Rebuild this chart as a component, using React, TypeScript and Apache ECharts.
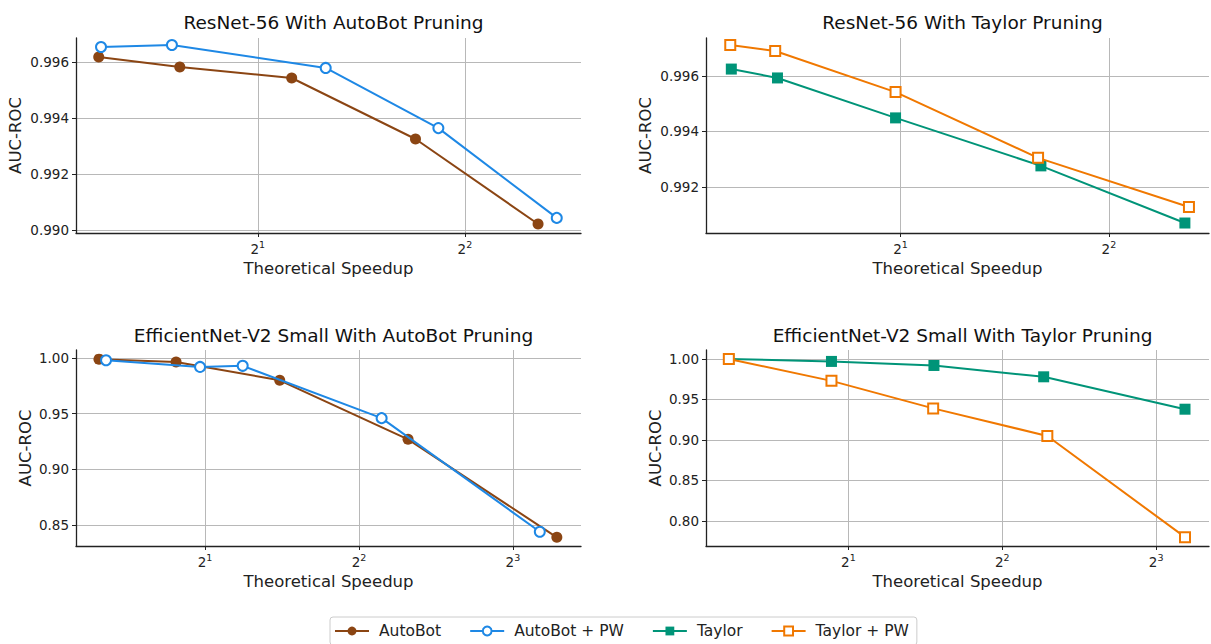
import React, { useEffect, useRef } from "react";
import * as echarts from "echarts";

const FONT = "DejaVu Sans";

const titles = [
  "ResNet-56 With AutoBot Pruning",
  "ResNet-56 With Taylor Pruning",
  "EfficientNet-V2 Small With AutoBot Pruning",
  "EfficientNet-V2 Small With Taylor Pruning",
];

// Top-left: ResNet-56, AutoBot
const r56AutoBotX = [1.174, 1.54, 2.24, 3.39, 5.11];
const r56AutoBotY = [0.99618, 0.99582, 0.99543, 0.99325, 0.99021];
const r56AutoBotPWX = [1.183, 1.5, 2.51, 3.66, 5.44];
const r56AutoBotPWY = [0.99654, 0.99661, 0.99579, 0.99364, 0.99043];

// Top-right: ResNet-56, Taylor
const r56TaylorX = [1.139, 1.328, 1.967, 3.19, 5.15];
const r56TaylorY = [0.99625, 0.99593, 0.99449, 0.99276, 0.9907];
const r56TaylorPWX = [1.135, 1.318, 1.967, 3.16, 5.22];
const r56TaylorPWY = [0.99712, 0.9969, 0.99542, 0.99305, 0.99128];

// Bottom-left: EfficientNet-V2 Small, AutoBot
const effAutoBotX = [1.241, 1.756, 2.8, 4.99, 9.75];
const effAutoBotY = [0.999, 0.9965, 0.98, 0.927, 0.839];
const effAutoBotPWX = [1.281, 1.956, 2.37, 4.43, 9.03];
const effAutoBotPWY = [0.998, 0.992, 0.993, 0.946, 0.844];

// Bottom-right: EfficientNet-V2 Small, Taylor
const effTaylorX = [1.167, 1.853, 2.94, 4.82, 9.11];
const effTaylorY = [1.0, 0.997, 0.992, 0.978, 0.938];
const effTaylorPWX = [1.167, 1.853, 2.93, 4.9, 9.11];
const effTaylorPWY = [1.0, 0.973, 0.939, 0.905, 0.78];

// axis ranges and ticks
const xRanges = [
  [1.088, 5.9],
  [1.047, 5.58],
  [1.119, 10.87],
  [1.053, 10.15],
];
const yRanges = [
  [0.98989, 0.99686],
  [0.99034, 0.99737],
  [0.8312, 1.0072],
  [0.7691, 1.0111],
];
const xTicks = [
  [2, 4],
  [2, 4],
  [2, 4, 8],
  [2, 4, 8],
];
const yTicks = [
  [0.99, 0.992, 0.994, 0.996],
  [0.992, 0.994, 0.996],
  [0.85, 0.9, 0.95, 1.0],
  [0.8, 0.85, 0.9, 0.95, 1.0],
];
const yDecimals = [3, 3, 2, 2];
const ySplit = [3, 3, 3, 5];

const seriesNames = ["AutoBot", "AutoBot + PW", "Taylor", "Taylor + PW"];
const colors = {
  AutoBot: "#8B4513",
  "AutoBot + PW": "#1E88E5",
  Taylor: "#009478",
  "Taylor + PW": "#F07800",
};

const zip = (xs: number[], ys: number[]) => xs.map((x, i) => [x, ys[i]]);

const grids = [
  { left: 76, top: 38, width: 505, height: 195 },
  { left: 706, top: 38, width: 503, height: 195 },
  { left: 76, top: 350, width: 505, height: 196 },
  { left: 706, top: 350, width: 503, height: 196 },
];
const yNameGaps = [52, 52, 42, 42];

export default function App() {
  const ref = useRef<HTMLDivElement>(null);
  useEffect(() => {
    document.body.style.margin = "0";
    if (!ref.current) return;
    const chart = echarts.init(ref.current, undefined, { renderer: "svg" });

    const axisLineColor = "#222";
    const gridColor = "#b8b8b8";

    const xAxis = grids.map((_, i) => ({
      type: "log",
      logBase: 2,
      gridIndex: i,
      min: xRanges[i][0],
      max: xRanges[i][1],
      name: "Theoretical Speedup",
      nameLocation: "middle",
      nameGap: 27,
      nameTextStyle: { fontFamily: FONT, fontSize: 16.5, color: "#222" },
      axisLine: { show: true, lineStyle: { color: axisLineColor, width: 1.3 } },
      axisTick: {
        show: true,
        length: 4,
        inside: false,
        customValues: xTicks[i],
        lineStyle: { color: axisLineColor, width: 1 },
      },
      axisLabel: {
        customValues: xTicks[i],
        margin: 6,
        formatter: (v: number) => `{b|2}{s|${Math.round(Math.log2(v))}}`,
        rich: {
          b: { fontFamily: FONT, fontSize: 13.5, color: "#222", lineHeight: 17, verticalAlign: "bottom" },
          s: { fontFamily: FONT, fontSize: 9.5, color: "#222", lineHeight: 17, verticalAlign: "top", padding: [0, 0, 4, 0] },
        },
      },
      splitLine: {
        show: true,
        lineStyle: { color: gridColor, width: 1 },
      },
      minorTick: { show: false },
    }));

    const yAxis = grids.map((_, i) => ({
      type: "value",
      gridIndex: i,
      min: yRanges[i][0],
      max: yRanges[i][1],
      splitNumber: ySplit[i],
      name: "AUC-ROC",
      nameLocation: "middle",
      nameGap: yNameGaps[i],
      nameRotate: 90,
      nameTextStyle: { fontFamily: FONT, fontSize: 16.5, color: "#222" },
      axisLine: { show: true, lineStyle: { color: axisLineColor, width: 1.3 } },
      axisTick: {
        show: true,
        length: 4,
        inside: false,
        customValues: yTicks[i],
        lineStyle: { color: axisLineColor, width: 1 },
      },
      axisLabel: {
        customValues: yTicks[i],
        margin: 7,
        fontFamily: FONT,
        fontSize: 13.5,
        color: "#222",
        formatter: (v: number) => v.toFixed(yDecimals[i]),
      },
      splitLine: {
        show: true,
        lineStyle: { color: gridColor, width: 1 },
      },
    }));

    const mk = (name: string, idx: number, xs: number[], ys: number[]) => {
      const c = (colors as any)[name];
      const hollow = name.endsWith("PW");
      const square = name.startsWith("Taylor");
      return {
        type: "line",
        name,
        xAxisIndex: idx,
        yAxisIndex: idx,
        data: zip(xs, ys),
        symbol: hollow ? (square ? "emptyRect" : "emptyCircle") : square ? "rect" : "circle",
        symbolSize: hollow ? 10 : 11,
        lineStyle: { color: c, width: 2 },
        itemStyle: { color: c, borderColor: c, borderWidth: hollow ? 1.6 : 0 },
        z: hollow ? 3 : 2,
      };
    };

    const series = [
      mk("AutoBot", 0, r56AutoBotX, r56AutoBotY),
      mk("AutoBot + PW", 0, r56AutoBotPWX, r56AutoBotPWY),
      mk("Taylor", 1, r56TaylorX, r56TaylorY),
      mk("Taylor + PW", 1, r56TaylorPWX, r56TaylorPWY),
      mk("AutoBot", 2, effAutoBotX, effAutoBotY),
      mk("AutoBot + PW", 2, effAutoBotPWX, effAutoBotPWY),
      mk("Taylor", 3, effTaylorX, effTaylorY),
      mk("Taylor + PW", 3, effTaylorPWX, effTaylorPWY),
    ];

    const title = grids.map((g, i) => ({
      text: titles[i],
      left: g.left + g.width / 2,
      top: i < 2 ? 8 : 321,
      textAlign: "center",
      textStyle: { fontFamily: FONT, fontSize: 18.5, fontWeight: "normal", color: "#111" },
    }));

    chart.setOption({
      animation: false,
      backgroundColor: "#fff",
      title,
      grid: grids.map((g) => ({ ...g, containLabel: false })),
      xAxis,
      yAxis,
      series,
      legend: {
        data: seriesNames,
        left: 330,
        top: 617,
        orient: "horizontal",
        itemWidth: 34,
        itemHeight: 11,
        itemGap: 28,
        padding: [6, 8, 6, 4],
        borderColor: "#cccccc",
        borderWidth: 1,
        borderRadius: 3,
        textStyle: { fontFamily: FONT, fontSize: 15.5, color: "#222", padding: [0, 0, 0, 5] },
      },
    });

    return () => chart.dispose();
  }, []);

  return <div ref={ref} style={{ width: 1211, height: 644 }} />;
}
